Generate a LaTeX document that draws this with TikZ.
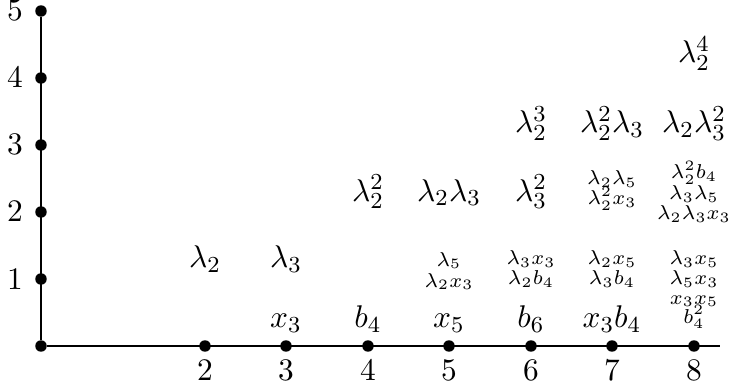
\documentclass[tikz,border=0pt]{standalone}
\begin{document}
\begin{tikzpicture}[x=0.349pt,y=-0.349pt,
  dot/.style={circle,fill,inner sep=0pt,minimum size=4pt},
  axis/.style={line width=0.85pt},
  num/.style={inner sep=0pt,anchor=base,font=\fontsize{10.5}{13}\selectfont},
  big/.style={inner sep=0pt,anchor=base,font=\fontsize{11}{13}\selectfont},
  small/.style={inner sep=0pt,anchor=base,font=\fontsize{7.5}{9}\selectfont}]
\useasboundingbox (0,0) rectangle (729,390);
% dots
\node[dot] (o) at (41,346) {};
\foreach \i/\y in {1/279,2/212,3/145,4/78,5/11} \node[dot] (y\i) at (41,\y) {};
\foreach \i/\x in {2/205,3/286,4/368,5/449,6/531,7/612,8/694} \node[dot] (x\i) at (\x,346) {};
\coordinate (xend) at (720,346);
\draw[axis] (o) -- (y5);
\draw[axis] (o) -- (xend);
% axis numbers
\foreach \i/\y in {1/289,2/222,3/155,4/88,5/21} \node[num] (ly\i) at (15,\y) {$\i$};
\foreach \i/\x in {2/205,3/286,4/368,5/449,6/531,7/612,8/694} \node[num] (lx\i) at (\x,380) {$\i$};
% big labels
\node[big] (a1) at (205,268) {$\lambda_2$};
\node[big] (a2) at (286,268) {$\lambda_3$};
\node[big] (b3) at (286,328) {$x_3$};
\node[big] (b4) at (368,328) {$b_4$};
\node[big] (b5) at (449,328) {$x_5$};
\node[big] (b6) at (531,328) {$b_6$};
\node[big] (b7) at (612,328) {$x_3b_4$};
\node[big] (c4) at (368,201) {$\lambda_2^2$};
\node[big] (c5) at (449,201) {$\lambda_2\lambda_3$};
\node[big] (c6) at (531,201) {$\lambda_3^2$};
\node[big] (d6) at (531,133) {$\lambda_2^3$};
\node[big] (d7) at (612,133) {$\lambda_2^2\lambda_3$};
\node[big] (d8) at (694,133) {$\lambda_2\lambda_3^2$};
\node[big] (e8) at (694,63) {$\lambda_2^4$};
% small labels, degree 1
\node[small] (s5a) at (449,266) {$\lambda_5$};
\node[small] (s5b) at (449,287) {$\lambda_2x_3$};
\node[small] (s6a) at (531,265) {$\lambda_3x_3$};
\node[small] (s6b) at (531,285) {$\lambda_2b_4$};
\node[small] (s7a) at (612,265) {$\lambda_2x_5$};
\node[small] (s7b) at (612,285) {$\lambda_3b_4$};
\node[small] (s8a) at (694,265) {$\lambda_3x_5$};
\node[small] (s8b) at (694,285) {$\lambda_5x_3$};
\node[small] (s8c) at (694,304) {$x_3x_5$};
\node[small] (s8d) at (694,323) {$b_4^2$};
% small labels, degree 2
\node[small] (t7a) at (612,185) {$\lambda_2\lambda_5$};
\node[small] (t7b) at (612,205) {$\lambda_2^2x_3$};
\node[small] (t8a) at (694,179) {$\lambda_2^2b_4$};
\node[small] (t8b) at (694,200) {$\lambda_3\lambda_5$};
\node[small] (t8c) at (694,220) {$\lambda_2\lambda_3x_3$};
\end{tikzpicture}
\end{document}
